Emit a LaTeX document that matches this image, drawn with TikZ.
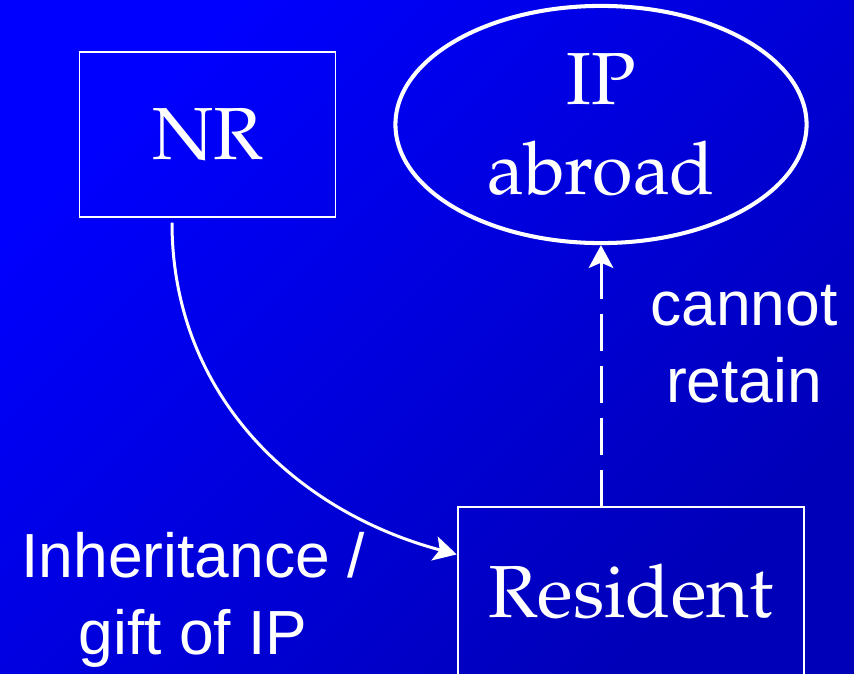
\documentclass[tikz,border=0pt]{standalone}
\usepackage[T1]{fontenc}
\usepackage{fontspec}
\newfontfamily\labelfont{Liberation Sans}
\newcommand\palfont{\fontencoding{T1}\fontfamily{ppl}\selectfont}
\usetikzlibrary{shapes.geometric,arrows.meta,calc}

\begin{document}
\begin{tikzpicture}
  [x=0.02cm,y=-0.02cm,
   box/.style={draw=white,line width=1.1pt,inner sep=0pt,text=white,
               font=\palfont\fontsize{42}{51}\selectfont},
   oval/.style={shape=ellipse,draw=white,line width=2.3pt,inner sep=0pt,text=white,
               align=center,font=\palfont\fontsize{42}{51}\selectfont,
               minimum width=234pt,minimum height=135pt},
   lbl/.style={text=white,align=center,font=\labelfont\fontsize{35.5}{43.5}\selectfont},
   arr/.style={white,line width=1.7pt,-{Stealth[length=13pt,width=14pt,inset=3pt]}}]
\shade [top color=blue,middle color=blue!94!black,bottom color=blue!72!black,
        shading angle=45] (0,0) rectangle (854,673);
\useasboundingbox (0,0) rectangle (854,673);

\node [box,minimum width=145.7pt,minimum height=93.5pt] (nr)  at (207.5,134.5) {NR};
\node [box,minimum width=197.3pt,minimum height=107.7pt,text depth=13pt]
                                                   (res) at (631,602) {Resident};
\node [oval] (ipab) at (601,124.5) {IP\\abroad};

\node [lbl] (keep) at (744,344) {cannot\\retain};
\node [lbl] (gift) at (193,600) {Inheritance /\\gift of IP};

\coordinate (nrout) at ($(nr.south)+(-35.5,5)$);
\coordinate (resin) at ($(res.north west)+(0,48)$);

\draw [arr] (nrout) .. controls +(0,170) and +(-164,-44) .. (resin);
\draw [arr,dash pattern=on 21pt off 8.5pt] (res.north -| ipab.south) -- (ipab.south);
\end{tikzpicture}
\end{document}
